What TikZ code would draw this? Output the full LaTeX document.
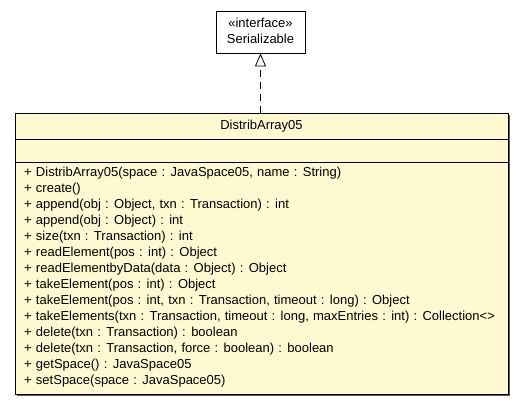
\documentclass[tikz,border=0pt]{standalone}
\usepackage{fontspec}
\setmainfont{Liberation Sans}
\usetikzlibrary{arrows.meta}
\definecolor{classfill}{HTML}{FFF9D1}
\definecolor{shadowgray}{HTML}{5A5A50}
\newcommand{\umlfont}{\fontsize{13}{15}\selectfont\spaceskip=4.2pt\relax}
\begin{document}
\begin{tikzpicture}[x=1pt,y=1pt,
  txt/.style={inner sep=0pt, anchor=west, font=\umlfont},
  ctxt/.style={inner sep=0pt, font=\umlfont},
  classbox/.style={draw=black, line width=1pt, fill=classfill, inner sep=0pt, anchor=north west},
  ifacebox/.style={draw=black, line width=0.8pt, fill=white, inner sep=0pt},
  realize/.style={dashed, dash pattern=on 7pt off 5pt, line width=0.8pt, -{Triangle[open, length=13pt, width=11pt, fill=white]}}
]
\useasboundingbox (0,0) rectangle (523,-405);
% interface
\node[ifacebox, minimum width=89pt, minimum height=42pt] (ser) at (260.5,-32) {};
\node[ctxt] (serst) at (260.5,-23) {«interface»};
\node[ctxt] (sername) at (260.5,-39) {Serializable};
% class shadow
\fill[shadowgray] (17,-115) rectangle (510,-396);
\node[classbox, minimum width=493pt, minimum height=281pt] (cls) at (15,-113) {};
\draw[line width=1pt] (15,-139) coordinate (d1l) -- (508,-139) coordinate (d1r);
\draw[line width=1pt] (15,-162) coordinate (d2l) -- (508,-162) coordinate (d2r);
\node[ctxt] (clsname) at (261.5,-126) {DistribArray05};
% methods
\node[txt] (m1) at (24,-173) {+ DistribArray05(space : JavaSpace05, name : String)};
\node[txt] (m2) at (24,-189) {+ create()};
\node[txt] (m3) at (24,-205) {+ append(obj : Object, txn : Transaction) : int};
\node[txt] (m4) at (24,-221) {+ append(obj : Object) : int};
\node[txt] (m5) at (24,-237) {+ size(txn : Transaction) : int};
\node[txt] (m6) at (24,-253) {+ readElement(pos : int) : Object};
\node[txt] (m7) at (24,-269) {+ readElementbyData(data : Object) : Object};
\node[txt] (m8) at (24,-285) {+ takeElement(pos : int) : Object};
\node[txt] (m9) at (24,-301) {+ takeElement(pos : int, txn : Transaction, timeout : long) : Object};
\node[txt] (m10) at (24,-317) {+ takeElements(txn : Transaction, timeout : long, maxEntries : int) : Collection<>};
\node[txt] (m11) at (24,-333) {+ delete(txn : Transaction) : boolean};
\node[txt] (m12) at (24,-349) {+ delete(txn : Transaction, force : boolean) : boolean};
\node[txt] (m13) at (24,-365) {+ getSpace() : JavaSpace05};
\node[txt] (m14) at (24,-381) {+ setSpace(space : JavaSpace05)};
% realization
\draw[realize] (ser.south |- cls.north) -- (ser.south);
\end{tikzpicture}
\end{document}
